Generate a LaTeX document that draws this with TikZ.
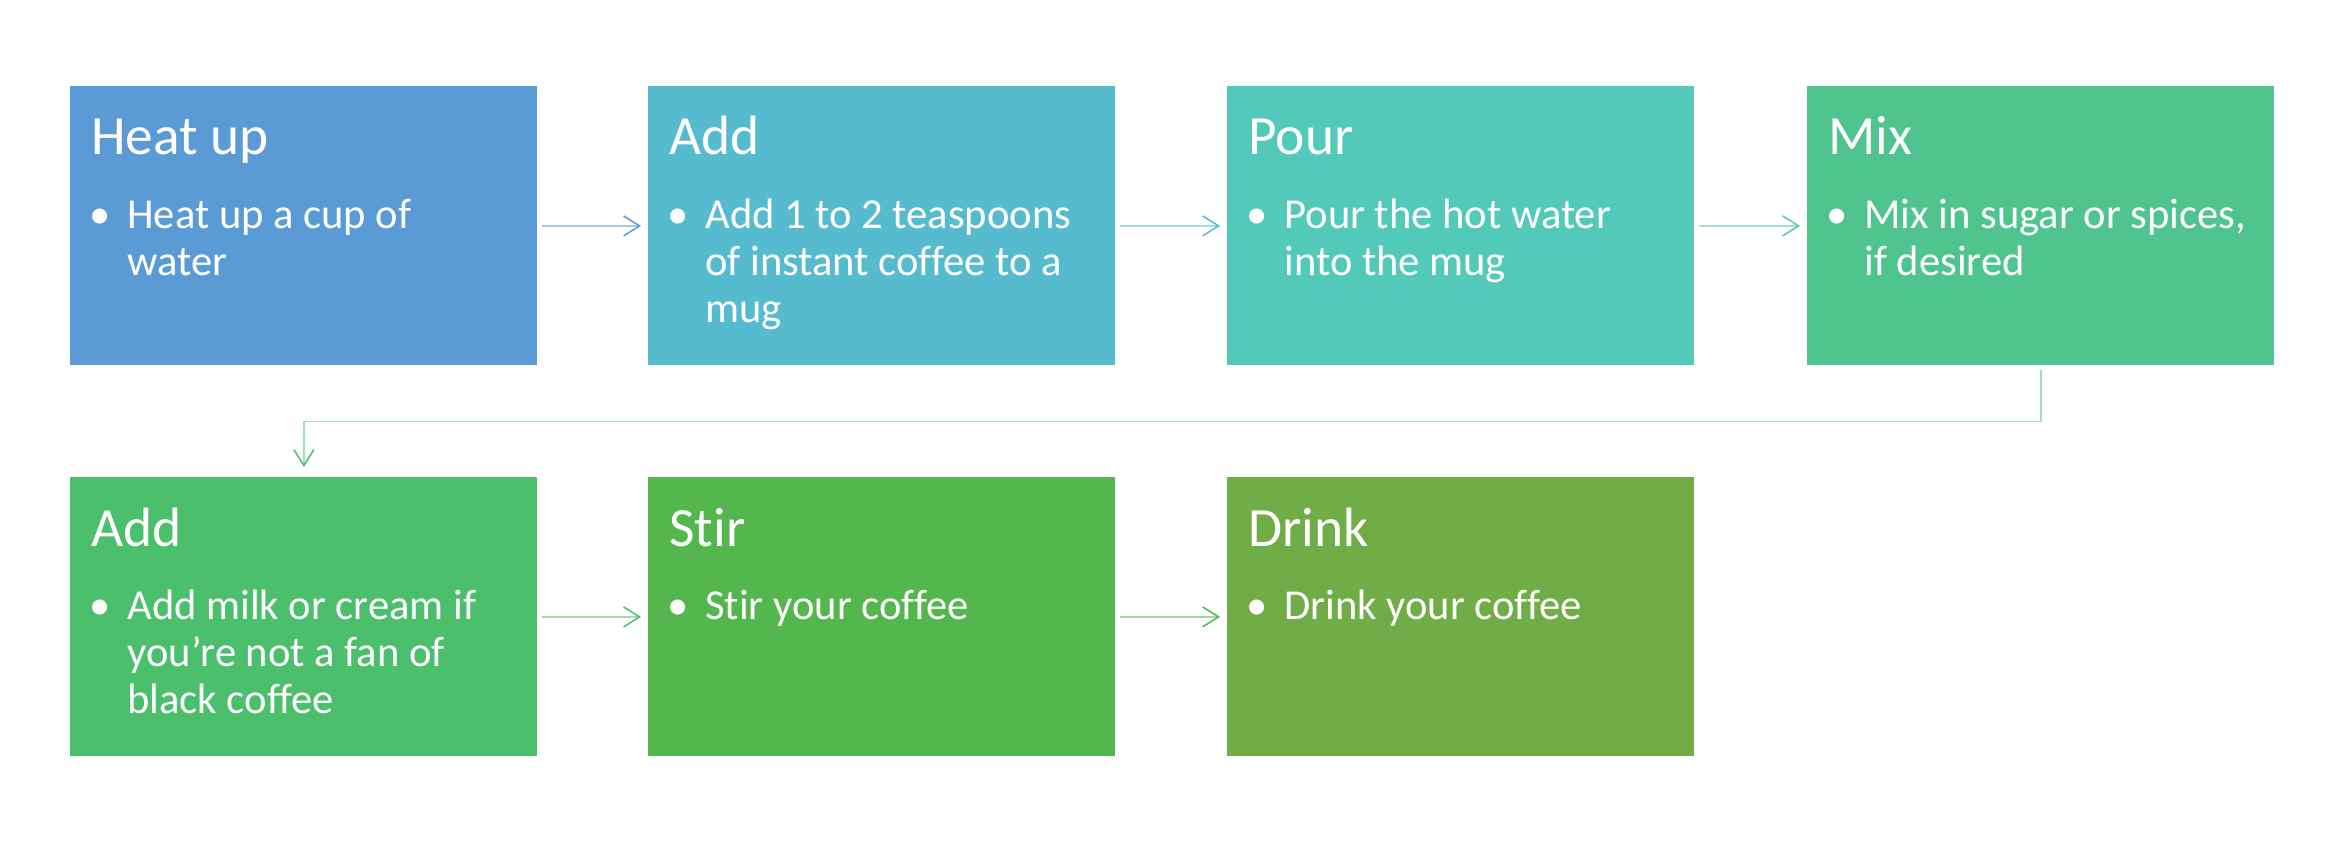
\documentclass[tikz,border=0pt]{standalone}
\usepackage{fontspec}
\setmainfont{Carlito}[Ligatures=NoCommon]
\usepackage{xcolor}
\definecolor{stepA}{HTML}{5B9BD5}
\definecolor{stepB}{HTML}{57BBD0}
\definecolor{stepC}{HTML}{53C9BA}
\definecolor{stepD}{HTML}{4FC48F}
\definecolor{stepE}{HTML}{4BBF6B}
\definecolor{stepF}{HTML}{53B74D}
\definecolor{stepG}{HTML}{70AD47}
\usepackage{tikz}
\usetikzlibrary{calc}
\usetikzlibrary{arrows.meta}

\tikzset{
  stepbox/.style={fill=#1, draw=none, inner sep=0pt, anchor=north west,
    minimum width=233.5pt, minimum height=139.5pt},
  steptitle/.style={text=white, inner sep=0pt, anchor=base west,
    font=\fontsize{27.7}{33}\selectfont},
  stepbody/.style={text=white, inner sep=0pt, anchor=base west, align=flush left,
    text width=200pt, font=\fontsize{21.3}{23.5}\selectfont},
  stepdot/.style={text=white, inner sep=0pt, anchor=base,
    font=\fontsize{21.3}{23.5}\selectfont},
  flow/.style={draw=#1!55, line width=0.75pt,
    -{Straight Barb[length=8pt, width=10pt, color=#1]}}
}

\begin{document}
\begin{tikzpicture}[x=0.5pt, y=-0.5pt]
        \useasboundingbox (0,0) rectangle (2332,840);

        % first row
        \node[stepbox=stepA] (heat) at (70,86) {};
        \node[steptitle] (heatT) at ($(heat.north west)+(21,69)$) {Heat up};
        \node[stepdot] (heatD) at ($(heat.north west)+(30,142)$) {\textbullet};
        \node[stepbody] (heatB) at ($(heat.north west)+(57,142)$) {Heat up a cup of\\water};

        \node[stepbox=stepB] (add) at (648,86) {};
        \node[steptitle] (addT) at ($(add.north west)+(21,69)$) {Add};
        \node[stepdot] (addD) at ($(add.north west)+(30,142)$) {\textbullet};
        \node[stepbody] (addB) at ($(add.north west)+(57,142)$) {Add 1 to 2 teaspoons\\of instant coffee to a\\mug};

        \node[stepbox=stepC] (pour) at (1227,86) {};
        \node[steptitle] (pourT) at ($(pour.north west)+(21,69)$) {Pour};
        \node[stepdot] (pourD) at ($(pour.north west)+(30,142)$) {\textbullet};
        \node[stepbody] (pourB) at ($(pour.north west)+(57,142)$) {Pour the hot water\\into the mug};

        \node[stepbox=stepD] (mix) at (1807,86) {};
        \node[steptitle] (mixT) at ($(mix.north west)+(21,69)$) {Mix};
        \node[stepdot] (mixD) at ($(mix.north west)+(30,142)$) {\textbullet};
        \node[stepbody] (mixB) at ($(mix.north west)+(57,142)$) {Mix in sugar or spices,\\if desired};

        % second row
        \node[stepbox=stepE] (milk) at (70,477) {};
        \node[steptitle] (milkT) at ($(milk.north west)+(21,69)$) {Add};
        \node[stepdot] (milkD) at ($(milk.north west)+(30,142)$) {\textbullet};
        \node[stepbody] (milkB) at ($(milk.north west)+(57,142)$) {Add milk or cream if\\you’re not a fan of\\black coffee};

        \node[stepbox=stepF] (stir) at (648,477) {};
        \node[steptitle] (stirT) at ($(stir.north west)+(21,69)$) {Stir};
        \node[stepdot] (stirD) at ($(stir.north west)+(30,142)$) {\textbullet};
        \node[stepbody] (stirB) at ($(stir.north west)+(57,142)$) {Stir your coffee};

        \node[stepbox=stepG] (drink) at (1227,477) {};
        \node[steptitle] (drinkT) at ($(drink.north west)+(21,69)$) {Drink};
        \node[stepdot] (drinkD) at ($(drink.north west)+(30,142)$) {\textbullet};
        \node[stepbody] (drinkB) at ($(drink.north west)+(57,142)$) {Drink your coffee};

        % connectors
        \draw[flow=stepA, shorten <=2pt, shorten >=3.5pt] (heat.east) -- (add.west);
        \draw[flow=stepB, shorten <=2pt, shorten >=3.5pt] (add.east) -- (pour.west);
        \draw[flow=stepC, shorten <=2pt, shorten >=3.5pt] (pour.east) -- (mix.west);
        \coordinate (turn) at ($(mix.south)!.5!(milk.north)$);
        \draw[flow=stepE, draw=stepD!55, shorten <=2pt, shorten >=5pt] (mix.south) |- (turn) -| (milk.north);
        \draw[flow=stepE, shorten <=2pt, shorten >=3.5pt] (milk.east) -- (stir.west);
        \draw[flow=stepF, shorten <=2pt, shorten >=3.5pt] (stir.east) -- (drink.west);
      \end{tikzpicture}
\end{document}
